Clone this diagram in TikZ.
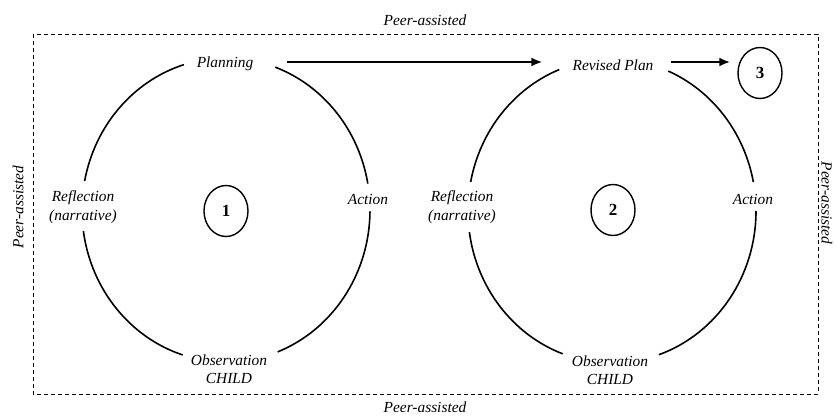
\documentclass[tikz,border=0pt]{standalone}
\usepackage{fontspec}
\setmainfont{Liberation Serif}
\usetikzlibrary{arrows.meta,shapes.geometric,calc}
\tikzset{
  lbl/.style={font=\fontsize{15.4}{18.5}\selectfont\itshape, align=center, inner sep=0pt},
  num/.style={draw, ellipse, line width=1.4pt, minimum width=44pt, minimum height=51pt, inner sep=0pt, font=\fontsize{17}{20}\selectfont\bfseries},
  ring/.style={line width=1.6pt},
  flow/.style={line width=2.2pt, -{Latex[length=11pt,width=9pt]}},
  frame/.style={line width=0.9pt, dash pattern=on 4pt off 3pt},
}
\begin{document}
\begin{tikzpicture}[x=1pt,y=1pt]
\useasboundingbox (0,0) rectangle (836,416);
% frame
\draw[frame] (33,382) rectangle (818,22);
\node[lbl] (pt) at (425,396) {Peer-assisted};
\node[lbl] (pb) at (425,9) {Peer-assisted};
\node[lbl, rotate=90] (pl) at (18,209) {Peer-assisted};
\node[lbl, rotate=-90] (pr) at (827,213) {Peer-assisted};
% cycle 1
\coordinate (c1) at (226,206);
\draw[ring] ([shift={(10:144pt and 152pt)}]c1) arc[start angle=10, end angle=70, x radius=144pt, y radius=152pt];
\draw[ring] ([shift={(107:144pt and 152pt)}]c1) arc[start angle=107, end angle=169, x radius=144pt, y radius=152pt];
\draw[ring] ([shift={(188:144pt and 152pt)}]c1) arc[start angle=188, end angle=252.5, x radius=144pt, y radius=152pt];
\draw[ring] ([shift={(291:144pt and 152pt)}]c1) arc[start angle=291, end angle=359.5, x radius=144pt, y radius=152pt];
\node[lbl] (plan1) at (225,352) {Planning};
\node[lbl] (act1) at (368,217) {Action};
\node[lbl] (refl1) at (83,209) {Reflection\\(narrative)};
\node[lbl] (obs1) at (229,47) {Observation\\CHILD};
\node[num] (n1) at (226,205) {1};
% cycle 2
\coordinate (c2) at (612,205);
\draw[ring] ([shift={(11:144pt and 152pt)}]c2) arc[start angle=11, end angle=67, x radius=144pt, y radius=152pt];
\draw[ring] ([shift={(111.5:144pt and 152pt)}]c2) arc[start angle=111.5, end angle=169, x radius=144pt, y radius=152pt];
\draw[ring] ([shift={(188:144pt and 152pt)}]c2) arc[start angle=188, end angle=250, x radius=144pt, y radius=152pt];
\draw[ring] ([shift={(289:144pt and 152pt)}]c2) arc[start angle=289, end angle=360, x radius=144pt, y radius=152pt];
\node[lbl] (plan2) at (613,351) {Revised Plan};
\node[lbl] (act2) at (753,217) {Action};
\node[lbl] (refl2) at (462,209) {Reflection\\(narrative)};
\node[lbl] (obs2) at (610,46) {Observation\\CHILD};
\node[num] (n2) at (613,206) {2};
\node[num] (n3) at (760,343) {3};
% arrows
\coordinate (ay) at (0,354);
\path (plan1.east) ++(34,0) coordinate (a1s);
\path (plan2.west) ++(-30,0) coordinate (a1e);
\path (plan2.east) ++(17,0) coordinate (a2s);
\path (n3.west) ++(-7,0) coordinate (a2e);
\draw[flow] (a1s |- ay) -- (a1e |- ay);
\draw[flow] (a2s |- ay) -- (a2e |- ay);
\end{tikzpicture}
\end{document}
